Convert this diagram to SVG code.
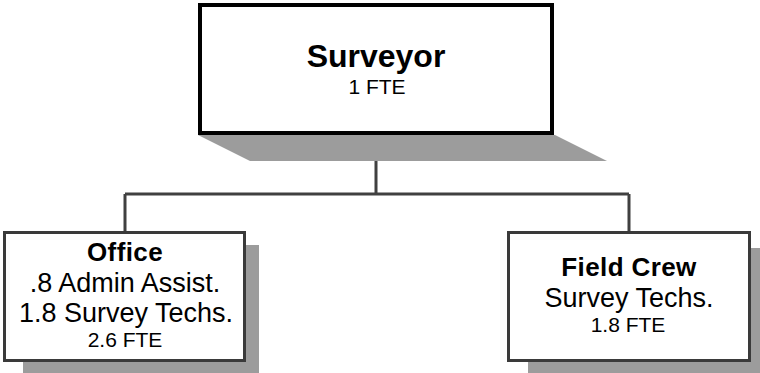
<svg xmlns="http://www.w3.org/2000/svg" width="760" height="373" viewBox="0 0 760 373">
  <style>
    .shadow { fill: #9c9c9c; }
    .box { fill: #ffffff; stroke: #3a3a3a; stroke-width: 3; }
    .box-main { fill: #ffffff; stroke: #000000; stroke-width: 4; }
    .link { fill: none; stroke: #404040; stroke-width: 3; }
    text { font-family: "Liberation Sans", Arial, sans-serif; fill: #000000; text-anchor: middle; }
    .title { font-weight: bold; font-size: 26px; letter-spacing: 0.4px; }
    .line { font-size: 27px; }
    .fte { font-size: 21px; }
  </style>

  <!-- connectors -->
  <g id="connectors">
    <path class="link" d="M376,135 V194 M125,194 H629 M125,194 V232 M629,194 V232"/>
  </g>

  <!-- top node -->
  <g id="surveyor">
    <polygon class="shadow" points="198,135 555,135 607,161 250,161"/>
    <rect class="box-main" x="200" y="5" width="352" height="128"/>
    <text x="376" y="67" font-weight="bold" font-size="32">Surveyor</text>
    <text class="fte" x="377" y="94">1 FTE</text>
  </g>

  <!-- left node -->
  <g id="office">
    <rect class="shadow" x="23" y="245" width="236" height="140"/>
    <rect class="box" x="4.5" y="232.5" width="240" height="128"/>
    <text class="title" x="125" y="261">Office</text>
    <text class="line" x="125" y="292">.8 Admin Assist.</text>
    <text class="line" x="126" y="322">1.8 Survey Techs.</text>
    <text class="fte" x="125" y="347">2.6 FTE</text>
  </g>

  <!-- right node -->
  <g id="field-crew">
    <rect class="shadow" x="528" y="248" width="240" height="140"/>
    <rect class="box" x="508.5" y="232.5" width="241" height="128"/>
    <text class="title" x="629" y="276">Field Crew</text>
    <text class="line" x="629" y="307">Survey Techs.</text>
    <text class="fte" x="628" y="332">1.8 FTE</text>
  </g>
</svg>
